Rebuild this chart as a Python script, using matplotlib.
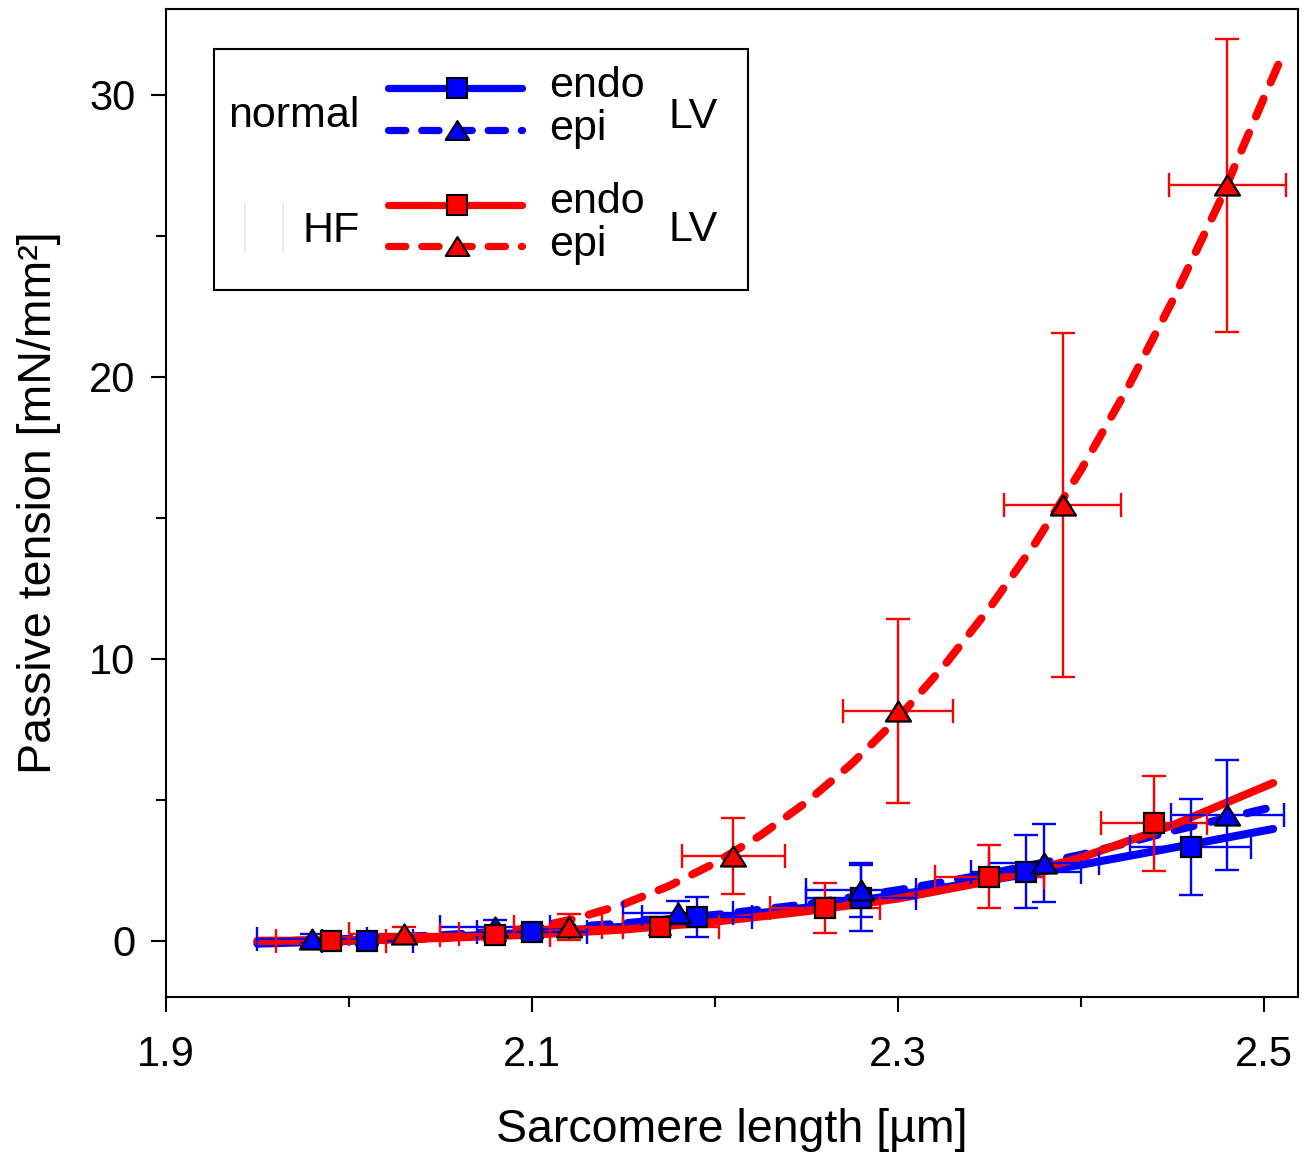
import matplotlib
matplotlib.use("Agg")
import matplotlib.pyplot as plt
from matplotlib.lines import Line2D
from matplotlib.patches import Rectangle
from matplotlib.path import Path

plt.rcParams['font.family'] = ['Liberation Sans', 'DejaVu Sans']

# ---------------- data ----------------
# normal LV endo (blue squares)
n_endo_x = [2.01, 2.10, 2.19, 2.28, 2.37, 2.46]
n_endo_y = [0.00, 0.32, 0.85, 1.52, 2.45, 3.33]
n_endo_xerr = [0.025, 0.030, 0.030, 0.030, 0.030, 0.033]
n_endo_yerr = [0.15, 0.20, 0.70, 1.17, 1.30, 1.70]

# normal LV epi (blue triangles)
n_epi_x = [1.98, 2.08, 2.18, 2.28, 2.38, 2.48]
n_epi_y = [0.08, 0.50, 1.00, 1.81, 2.77, 4.47]
n_epi_xerr = [0.030, 0.030, 0.030, 0.030, 0.030, 0.031]
n_epi_yerr = [0.15, 0.25, 0.40, 0.95, 1.38, 1.95]

# HF LV endo (red squares)
h_endo_x = [1.99, 2.08, 2.17, 2.26, 2.35, 2.44]
h_endo_y = [0.00, 0.20, 0.50, 1.17, 2.27, 4.17]
h_endo_xerr = [0.030, 0.030, 0.032, 0.030, 0.030, 0.029]
h_endo_yerr = [0.15, 0.20, 0.30, 0.90, 1.12, 1.68]

# HF LV epi (red triangles)
h_epi_x = [2.03, 2.12, 2.21, 2.30, 2.39, 2.48]
h_epi_y = [0.25, 0.50, 3.00, 8.15, 15.46, 26.80]
h_epi_xerr = [0.030, 0.030, 0.028, 0.030, 0.032, 0.032]
h_epi_yerr = [0.25, 0.46, 1.35, 3.27, 6.10, 5.20]

# fitted curves
fit_x = [1.95, 2.00, 2.05, 2.10, 2.15, 2.20, 2.25, 2.30, 2.35, 2.40, 2.45, 2.505]
n_endo_fit = [-0.10, 0.00, 0.13, 0.30, 0.50, 0.80, 1.18, 1.63, 2.15, 2.70, 3.30, 3.97]
n_epi_fit = [-0.05, 0.07, 0.20, 0.40, 0.62, 0.92, 1.30, 1.80, 2.38, 3.05, 3.90, 4.75]
h_endo_fit = [0.00, 0.02, 0.10, 0.22, 0.40, 0.68, 1.05, 1.50, 2.12, 2.95, 4.10, 5.60]
h_epi_fit_x = [1.95, 2.00, 2.05, 2.10, 2.125, 2.15, 2.175, 2.20, 2.225, 2.25, 2.275,
               2.30, 2.325, 2.35, 2.375, 2.40, 2.425, 2.45, 2.475, 2.50, 2.508]
h_epi_fit = [0.00, 0.02, 0.08, 0.45, 0.81, 1.30, 1.95, 2.76, 3.75, 4.92, 6.30,
             7.90, 9.74, 11.80, 14.10, 16.70, 19.55, 22.70, 26.10, 29.90, 31.10]

x_ticks = [1.9, 2.1, 2.3, 2.5]
x_tick_labels = ["1.9", "2.1", "2.3", "2.5"]
x_minor = [2.0, 2.2, 2.4]
y_ticks = [0, 10, 20, 30]
y_tick_labels = ["0", "10", "20", "30"]
y_minor = [5, 15, 25]

# ---------------- figure ----------------
W, H = 1311, 1157
fig = plt.figure(figsize=(W / 100, H / 100), dpi=100)
ax = fig.add_axes([166 / W, 1 - 997 / H, (1298 - 166) / W, (997 - 9) / H])

BLUE = '#0000ff'
RED = '#ff0000'
LW = 5.8
DASH = (0, (2.4, 2.2))

tri = Path([(0, 0.8), (-1, -0.8), (1, -0.8), (0, 0.8)],
           [Path.MOVETO, Path.LINETO, Path.LINETO, Path.CLOSEPOLY])

# curves
ax.plot(fit_x, n_endo_fit, color=BLUE, lw=LW, solid_capstyle='round',
        solid_joinstyle='round', zorder=2)
ax.plot(fit_x, n_epi_fit, color=BLUE, lw=LW, ls=DASH, dash_capstyle='round',
        dash_joinstyle='round', zorder=2)
ax.plot(fit_x, h_endo_fit, color=RED, lw=LW, solid_capstyle='round',
        solid_joinstyle='round', zorder=3)
ax.plot(h_epi_fit_x, h_epi_fit, color=RED, lw=LW, ls=DASH, dash_capstyle='round',
        dash_joinstyle='round', zorder=3)

series = [
    (n_endo_x, n_endo_y, n_endo_xerr, n_endo_yerr, BLUE, 's', 15),
    (n_epi_x, n_epi_y, n_epi_xerr, n_epi_yerr, BLUE, tri, 18),
    (h_endo_x, h_endo_y, h_endo_xerr, h_endo_yerr, RED, 's', 15),
    (h_epi_x, h_epi_y, h_epi_xerr, h_epi_yerr, RED, tri, 18),
]
for xs, ys, xe, ye, col, mk, ms in series:
    ax.errorbar(xs, ys, xerr=xe, yerr=ye, fmt='none', ecolor=col, elinewidth=1.7,
                capsize=8.5, capthick=1.7, zorder=4)
for xs, ys, xe, ye, col, mk, ms in series:
    ax.plot(xs, ys, ls='none', marker=mk, markersize=ms, markerfacecolor=col,
            markeredgecolor='black', markeredgewidth=1.6, zorder=5)

ax.set_xlim(1.9, 2.5186)
ax.set_ylim(-1.99, 33.05)
ax.set_xticks(x_ticks)
ax.set_xticklabels(x_tick_labels)
ax.set_xticks(x_minor, minor=True)
ax.set_yticks(y_ticks)
ax.set_yticklabels(y_tick_labels)
ax.set_yticks(y_minor, minor=True)
ax.tick_params(which='major', direction='out', length=11, width=1.5, labelsize=30)
ax.tick_params(axis='x', which='major', pad=16)
ax.tick_params(axis='y', which='major', pad=11)
ax.tick_params(which='minor', direction='out', length=7, width=1.5)
for s in ax.spines.values():
    s.set_linewidth(1.5)

ax.set_xlabel("Sarcomere length [µm]", fontsize=33.5, labelpad=24)
ax.set_ylabel("Passive tension [mN/mm²]", fontsize=33.5, labelpad=20)


# ---------------- legend (drawn by hand) ----------------
def P(px, py):
    return (px / W, 1 - py / H)


fig.add_artist(Rectangle(P(214, 290), (748 - 214) / W, (290 - 49) / H,
                         transform=fig.transFigure, fill=False, lw=1.5,
                         edgecolor='black', zorder=10))
# faint ghost marks near "HF"
for gx in (245, 283):
    xa, ya = P(gx, 252)
    _, yb = P(gx, 203)
    fig.add_artist(Line2D([xa, xa], [ya, yb], transform=fig.transFigure,
                          color='#eeeeee', lw=1.5, zorder=10))

leg_rows = [
    (88, BLUE, '-', 's', 14),
    (130, BLUE, DASH, tri, 17),
    (205, RED, '-', 's', 14),
    (246, RED, DASH, tri, 17),
]
for py, col, ls, mk, ms in leg_rows:
    xa, ya = P(388, py)
    xm, _ = P(457, py)
    xb, _ = P(522, py)
    fig.add_artist(Line2D([xa, xb], [ya, ya], transform=fig.transFigure, color=col,
                          lw=5.2, ls=ls, solid_capstyle='round', dash_capstyle='round',
                          zorder=11))
    fig.add_artist(Line2D([xm], [ya], transform=fig.transFigure, ls='none', marker=mk,
                          markersize=ms, markerfacecolor=col, markeredgecolor='black',
                          markeredgewidth=1.5, zorder=12))

LFS = 31
for txt, px, py in [("normal", 228, 127), ("endo", 549, 97), ("epi", 549, 140),
                    ("LV", 668, 128), ("HF", 303, 242), ("endo", 549, 213),
                    ("epi", 549, 256), ("LV", 668, 241)]:
    fig.text(*P(px, py), txt, fontsize=LFS, ha='left', va='baseline', zorder=12)

fig.savefig("out.png", dpi=100)
